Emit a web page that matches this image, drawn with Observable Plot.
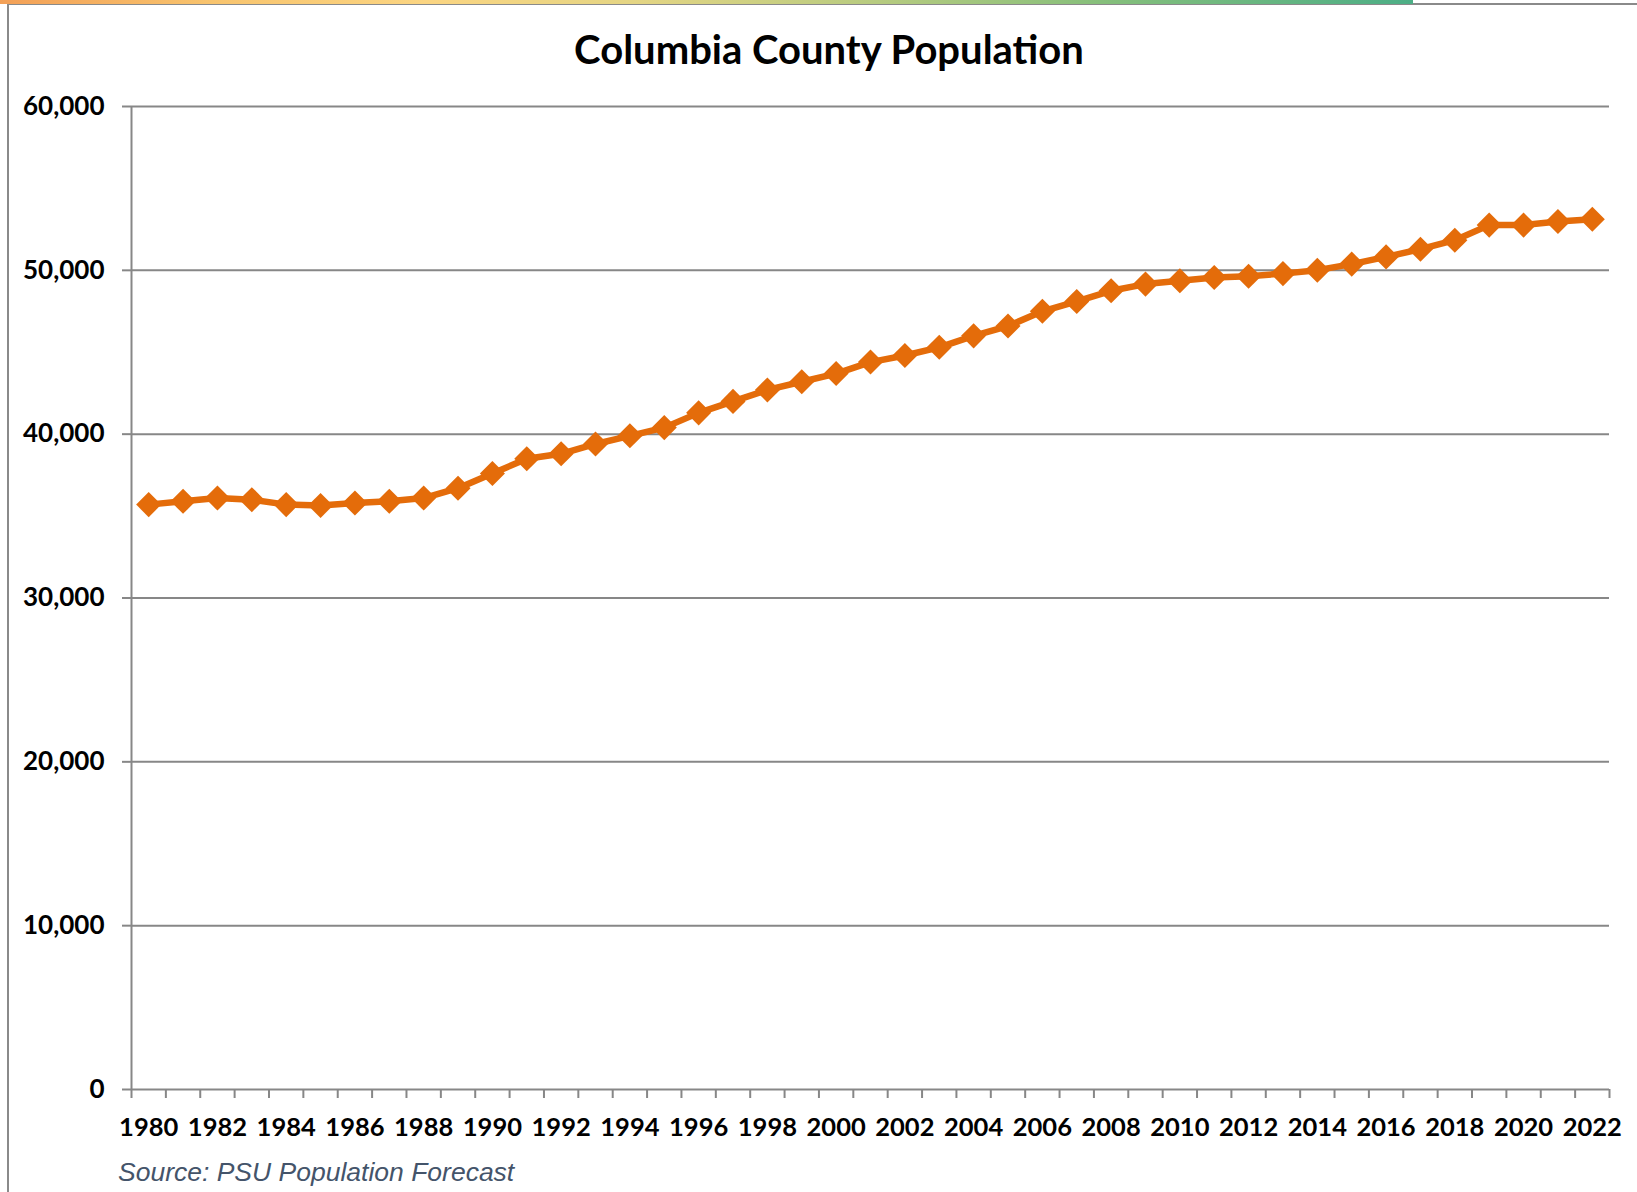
<!DOCTYPE html>
<html>
<head>
<meta charset="utf-8">
<script src="https://cdn.jsdelivr.net/npm/d3@7"></script>
<script src="https://cdn.jsdelivr.net/npm/@observablehq/plot@0.6"></script>
<style>
  html, body { margin: 0; padding: 0; background: #fff; }
  #wrap { position: relative; width: 1637px; height: 1192px; overflow: hidden; background: #fff; }
  #bar { position: absolute; left: 0; top: 0; width: 1413px; height: 4px;
    background: linear-gradient(to right, #f3a057 0%, #f8c46e 15%, #fbd582 30%, #e4d584 45%, #b7cb80 62%, #86bf7b 78%, #4cae86 100%); }
  #frame { position: absolute; left: 7px; top: 3px; right: -4px; bottom: -4px;
    border-left: 2px solid #8a8a8a; border-top: 2px solid #8a8a8a; }
  #title { position: absolute; left: 0; width: 1658px; top: 25px; text-align: center;
    font-family: Lato, "Open Sans", sans-serif; font-weight: 700; font-size: 40px; color: #000; line-height: 48px; }
  #chart { position: absolute; left: 0; top: 0; }
  #source { position: absolute; left: 118px; top: 1156px; font-family: "Liberation Sans", Arial, sans-serif;
    font-style: italic; font-size: 26.5px; color: #44546a; line-height: 32px; }
</style>
</head>
<body>
<div id="wrap">
  <div id="frame"></div>
  <div id="bar"></div>
  <div id="title">Columbia County Population</div>
  <div id="chart"></div>
  <div id="source">Source: PSU Population Forecast</div>
</div>
<script>
const years = d3.range(1980, 2023);
const population = [
  35700, 35900, 36100, 36000, 35700, 35650, 35800, 35900, 36100, 36700,
  37600, 38500, 38800, 39400, 39900, 40400, 41300, 42000, 42700, 43200,
  43700, 44400, 44800, 45300, 46000, 46600, 47500, 48100, 48750, 49160,
  49360, 49560, 49640, 49800, 50010, 50380, 50820, 51290, 51840, 52760,
  52760, 52980, 53120
];
const yTicks = [0, 10000, 20000, 30000, 40000, 50000, 60000];
const xLabelYears = years.filter(y => y % 2 === 0);
const xBoundaries = d3.range(1979.5, 2023, 1);

const data = years.map((year, i) => ({year, pop: population[i]}));

const gray = "#878787";
const orange = "#E46C0A";

const chart = Plot.plot({
  width: 1637,
  height: 1150,
  marginLeft: 131,
  marginRight: 28,
  marginTop: 106,
  marginBottom: 61,
  style: { fontFamily: "Lato, 'Open Sans', sans-serif", background: "transparent", overflow: "visible" },
  x: { type: "linear", domain: [1979.5, 2022.5], axis: null },
  y: { domain: [0, 60000], axis: null },
  marks: [
    Plot.gridY(yTicks, { stroke: gray, strokeOpacity: 1, strokeWidth: 2 }),
    Plot.axisY(yTicks, {
      anchor: "left", label: null, tickSize: 9, tickPadding: 18, stroke: gray, strokeWidth: 2,
      tickFormat: d3.format(","), fontSize: 26, fontWeight: "bold", fill: "#000"
    }),
    Plot.ruleX([1979.5], { y1: 0, y2: 60000, stroke: gray, strokeWidth: 2 }),
    Plot.axisX(xBoundaries, {
      anchor: "bottom", label: null, tickSize: 9, stroke: gray, strokeWidth: 2, text: null
    }),
    Plot.axisX(xLabelYears, {
      anchor: "bottom", label: null, tickSize: 0, tickPadding: 28, tickFormat: d3.format("d"),
      fontSize: 25.5, fontWeight: "bold", fill: "#000"
    }),
    Plot.line(data, { x: "year", y: "pop", stroke: orange, strokeWidth: 6.5 }),
    Plot.dot(data, { x: "year", y: "pop", symbol: "square", r: 10, rotate: 45, fill: orange, stroke: "none" })
  ]
});
document.getElementById("chart").appendChild(chart);
</script>
</body>
</html>
